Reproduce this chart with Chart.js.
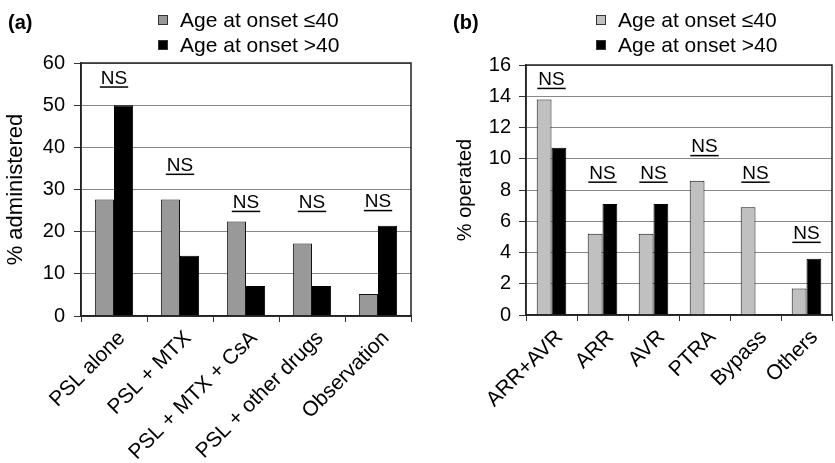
<!DOCTYPE html>
<html>
<head>
<meta charset="utf-8">
<script src="https://cdn.jsdelivr.net/npm/chart.js@4"></script>
<style>
  body { margin: 0; background: #fff; width: 835px; height: 463px; position: relative; overflow: hidden;
         font-family: "Liberation Sans", Arial, sans-serif; color: #000; }
  canvas { position: absolute; top: 0; }
  .tag { position: absolute; font-weight: bold; font-size: 20px; line-height: 20px; }
  .lbox { position: absolute; width: 10px; height: 10px; box-sizing: border-box; border: 1px solid #333; }
  .ltxt { position: absolute; font-size: 21px; line-height: 21px; white-space: nowrap; }
</style>
</head>
<body>
<canvas id="chartA" width="418" height="463" style="left:0"></canvas>
<canvas id="chartB" width="417" height="463" style="left:418px"></canvas>
<div class="tag" style="left:8px;top:12px">(a)</div>
<div class="tag" style="left:453px;top:12px">(b)</div>
<script>
// series names
const seriesNames = ['Age at onset \u226440', 'Age at onset >40'];

// (a) treatment
const treatLabels = ['PSL alone', 'PSL + MTX', 'PSL + MTX + CsA', 'PSL + other drugs', 'Observation'];
const treatYoung = [27.6, 27.6, 22.4, 17.2, 5.2];
const treatOld = [50.0, 14.3, 7.1, 7.1, 21.4];
const treatNS = [54.3, 33.6, 24.8, 24.8, 25.0];   // height of the NS mark, in % units
const treatTicks = [0, 10, 20, 30, 40, 50, 60];

// (b) surgery
const surgLabels = ['ARR+AVR', 'ARR', 'AVR', 'PTRA', 'Bypass', 'Others'];
const surgYoung = [13.8, 5.2, 5.2, 8.6, 6.9, 1.7];
const surgOld = [10.7, 7.1, 7.1, 0, 0, 3.6];
const surgNS = [14.5, 8.5, 8.5, 10.2, 8.5, 4.65];
const surgTicks = [0, 2, 4, 6, 8, 10, 12, 14, 16];

const FONT = '"Liberation Sans", Arial, sans-serif';

// frame around the plot + underlined NS marks
const nsPlugin = {
  id: 'ns',
  afterDatasetsDraw(chart, args, opts) {
    const { ctx, chartArea: a, scales: { x, y } } = chart;
    ctx.save();
    ctx.strokeStyle = '#222';
    ctx.lineWidth = 1.5;
    ctx.strokeRect(a.left, a.top, a.right - a.left, a.bottom - a.top);
    ctx.font = '19px ' + FONT;
    ctx.fillStyle = '#000';
    ctx.textAlign = 'center';
    ctx.textBaseline = 'alphabetic';
    const w = ctx.measureText('NS').width;
    opts.levels.forEach((v, i) => {
      const px = x.getPixelForValue(i);
      const py = y.getPixelForValue(v);
      ctx.fillText('NS', px, py - 3.5);
      ctx.fillRect(px - w / 2 - 1, py - 0.75, w + 2, 1.5);
    });
    ctx.restore();
  }
};

function makeChart(id, labels, young, old, youngColor, levels, ticks, title, g) {
  new Chart(document.getElementById(id), {
    type: 'bar',
    data: {
      labels: labels,
      datasets: [
        { label: seriesNames[0], data: young, backgroundColor: youngColor, borderColor: '#111', borderWidth: 1 },
        { label: seriesNames[1], data: old, backgroundColor: '#000', borderColor: '#000', borderWidth: 1 }
      ]
    },
    options: {
      responsive: false,
      animation: false,
      events: [],
      layout: { padding: { top: g.top, right: g.right, left: 0, bottom: 0 } },
      datasets: { bar: { categoryPercentage: 0.58, barPercentage: 1.0 } },
      plugins: { legend: { display: false }, tooltip: { enabled: false }, ns: { levels: levels } },
      scales: {
        x: {
          offset: true,
          afterFit: (s) => { s.height = g.xh; },
          grid: { offset: true, drawOnChartArea: false, color: '#333', tickLength: 6 },
          border: { color: '#222', width: 1.5 },
          ticks: { minRotation: 45, maxRotation: 45, autoSkip: false, labelOffset: 8, padding: 4,
                   color: '#000', font: { family: FONT, size: 21 } }
        },
        y: {
          min: ticks[0],
          max: ticks[ticks.length - 1],
          afterFit: (s) => { s.width = g.yw; },
          afterBuildTicks: (s) => { s.ticks = ticks.map(v => ({ value: v })); },
          grid: { color: '#888', tickColor: '#333', tickLength: 7 },
          border: { color: '#222', width: 1.5 },
          ticks: { padding: g.tp, color: '#000', font: { family: FONT, size: 20 } },
          title: { display: true, text: title, color: '#000',
                   font: { family: FONT, size: g.ts }, padding: { top: g.tpad, bottom: 0 } }
        }
      }
    },
    plugins: [nsPlugin]
  });
}

makeChart('chartA', treatLabels, treatYoung, treatOld, '#999999', treatNS, treatTicks, '% administered',
  { top: 63, right: 7, xh: 147, yw: 81, tp: 9, ts: 22, tpad: 3 });
makeChart('chartB', surgLabels, surgYoung, surgOld, '#c0c0c0', surgNS, surgTicks, '% operated',
  { top: 65, right: 3, xh: 148, yw: 108, tp: 8, ts: 20, tpad: 35 });

// legends, one per panel
const legendSpots = [
  { left: 158, colors: ['#999999', '#000'] },
  { left: 596, colors: ['#c0c0c0', '#000'] }
];
legendSpots.forEach(spot => {
  seriesNames.forEach((name, i) => {
    const box = document.createElement('div');
    box.className = 'lbox';
    box.style.left = spot.left + 'px';
    box.style.top = (15 + i * 25) + 'px';
    box.style.background = spot.colors[i];
    document.body.appendChild(box);
    const t = document.createElement('div');
    t.className = 'ltxt';
    t.style.left = (spot.left + 22) + 'px';
    t.style.top = (9 + i * 25) + 'px';
    t.textContent = name;
    document.body.appendChild(t);
  });
});
</script>
</body>
</html>
